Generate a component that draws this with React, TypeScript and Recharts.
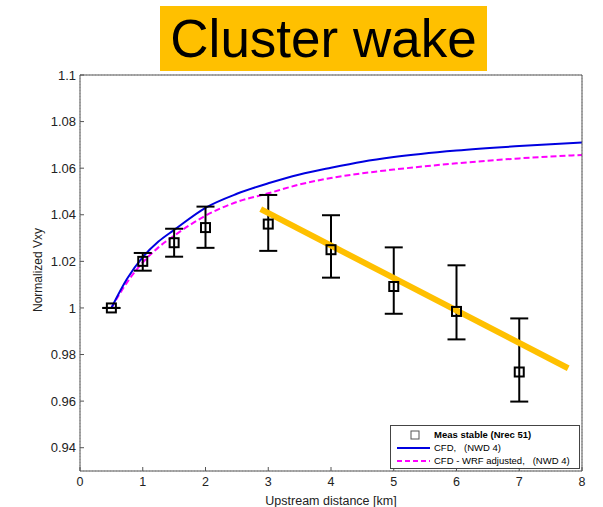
import React from 'react';
import {
  ComposedChart,
  Line,
  Scatter,
  ErrorBar,
  XAxis,
  YAxis,
  CartesianGrid
} from 'recharts';

// measured points (stable, Nrec 51)
const measX = [0.5, 1, 1.5, 2, 3, 4, 5, 6, 7];
const measY = [1.0, 1.02, 1.028, 1.0345, 1.036, 1.025, 1.0092, 0.9985, 0.9725];
const measLow = [1.0, 1.016, 1.022, 1.0258, 1.0245, 1.013, 0.9975, 0.9865, 0.9598];
const measHigh = [1.0, 1.0236, 1.034, 1.0435, 1.0485, 1.0398, 1.026, 1.0183, 0.9955];

// CFD curves
const cfdX = [0.5, 0.75, 1, 1.25, 1.5, 2, 2.5, 3, 3.5, 4, 4.5, 5, 6, 7, 8];
const cfdY = [1.0, 1.0125, 1.0218, 1.0285, 1.0335, 1.043, 1.049, 1.0535, 1.0573, 1.0602, 1.0628, 1.0648, 1.0676, 1.0695, 1.071];
const wrfY = [1.0, 1.011, 1.0195, 1.026, 1.031, 1.0396, 1.0455, 1.0492, 1.053, 1.0558, 1.0578, 1.0594, 1.0621, 1.0642, 1.0657];

// trend line drawn over the measurements
const trendX = [2.88, 7.78];
const trendY = [1.0424, 0.9741];

const xTicks = [0, 1, 2, 3, 4, 5, 6, 7, 8];
const yTicks = [0.94, 0.96, 0.98, 1, 1.02, 1.04, 1.06, 1.08, 1.1];

const measData = measX.map((x, i) => ({
  x,
  y: measY[i],
  err: [measY[i] - measLow[i], measHigh[i] - measY[i]]
}));
const cfdData = cfdX.map((x, i) => ({ x, y: cfdY[i] }));
const wrfData = cfdX.map((x, i) => ({ x, y: wrfY[i] }));
const trendData = trendX.map((x, i) => ({ x, y: trendY[i] }));

const FONT = '"Liberation Sans", Arial, sans-serif';

const SquareMarker = (props: any) => {
  const { cx, cy } = props;
  if (cx == null || cy == null) return null;
  return <rect x={cx - 4.5} y={cy - 4.5} width={9} height={9} fill="none" stroke="#000" strokeWidth={2} />;
};

const fmtY = (v: number) => String(Number(v.toFixed(2)));

const App: React.FC = () => {
  return (
    <div style={{ position: 'absolute', left: 0, top: 0, width: 603, height: 507, background: '#fff', fontFamily: FONT }}>
      <div
        style={{
          position: 'absolute',
          left: 160,
          top: 6,
          width: 327,
          height: 65,
          background: '#FFC000',
          color: '#000',
          fontSize: 53,
          lineHeight: '65px',
          textAlign: 'center'
        }}
      >
        Cluster wake
      </div>

      <ComposedChart
        width={603}
        height={507}
        margin={{ top: 75, right: 21, bottom: 0, left: 0 }}
        style={{ position: 'absolute', left: 0, top: 0 }}
      >
        <CartesianGrid stroke="#c4c4c4" strokeDasharray="1 2" />
        <XAxis
          xAxisId="bottom"
          dataKey="x"
          type="number"
          domain={[0, 8]}
          ticks={xTicks}
          height={36}
          stroke="#555"
          tickSize={-4}
          tickMargin={10}
          tick={{ fill: '#222', fontSize: 12.5, fontFamily: FONT }}
          label={{
            content: () => (
              <text x={331} y={505} textAnchor="middle" fill="#222" fontSize={12.5} fontFamily={FONT}>
                Upstream distance [km]
              </text>
            )
          }}
        />
        <XAxis
          xAxisId="top"
          orientation="top"
          dataKey="x"
          type="number"
          domain={[0, 8]}
          ticks={xTicks}
          mirror
          tick={false}
          tickSize={4}
          stroke="#555"
        />
        <YAxis
          yAxisId="left"
          type="number"
          domain={[0.93, 1.1]}
          ticks={yTicks}
          width={80}
          stroke="#555"
          tickSize={-4}
          tickMargin={8}
          tickFormatter={fmtY}
          tick={{ fill: '#222', fontSize: 13, fontFamily: FONT }}
          label={{
            content: () => (
              <text
                x={42}
                y={270}
                textAnchor="middle"
                transform="rotate(-90, 42, 270)"
                fill="#222"
                fontSize={12}
                fontFamily={FONT}
              >
                Normalized Vxy
              </text>
            )
          }}
        />
        <YAxis
          yAxisId="right"
          orientation="right"
          type="number"
          domain={[0.93, 1.1]}
          ticks={yTicks}
          mirror
          tick={false}
          tickSize={4}
          stroke="#555"
        />

        <Line
          xAxisId="bottom"
          yAxisId="left"
          data={wrfData}
          dataKey="y"
          type="monotone"
          stroke="#ff00ff"
          strokeWidth={2}
          strokeDasharray="6 3"
          dot={false}
          isAnimationActive={false}
        />
        <Line
          xAxisId="bottom"
          yAxisId="left"
          data={cfdData}
          dataKey="y"
          type="monotone"
          stroke="#0000e0"
          strokeWidth={2}
          dot={false}
          isAnimationActive={false}
        />
        <Scatter
          xAxisId="bottom"
          yAxisId="left"
          data={measData}
          dataKey="y"
          shape={SquareMarker}
          isAnimationActive={false}
        >
          <ErrorBar dataKey="err" direction="y" width={9} stroke="#000" strokeWidth={2} />
        </Scatter>
        <Line
          xAxisId="bottom"
          yAxisId="left"
          data={trendData}
          dataKey="y"
          type="linear"
          stroke="#FFC000"
          strokeWidth={6}
          dot={false}
          isAnimationActive={false}
        />
      </ComposedChart>

      <div
        style={{
          position: 'absolute',
          left: 390,
          top: 425,
          width: 190,
          height: 44,
          border: '1px solid #444',
          background: '#fff',
          fontSize: 9.5,
          color: '#000',
          boxSizing: 'border-box',
          padding: '2px 0 0 4px'
        }}
      >
        <div style={{ display: 'flex', alignItems: 'center', height: 13 }}>
          <svg width={36} height={12}>
            <rect x={16} y={2} width={8} height={8} fill="none" stroke="#555" strokeWidth={1} />
          </svg>
          <span style={{ marginLeft: 3, fontWeight: 'bold' }}>Meas stable (Nrec 51)</span>
        </div>
        <div style={{ display: 'flex', alignItems: 'center', height: 13 }}>
          <svg width={36} height={12}>
            <line x1={2} y1={6} x2={35} y2={6} stroke="#0000e0" strokeWidth={2} />
          </svg>
          <span style={{ marginLeft: 3 }}>CFD,&nbsp;&nbsp;&nbsp;(NWD 4)</span>
        </div>
        <div style={{ display: 'flex', alignItems: 'center', height: 13 }}>
          <svg width={36} height={12}>
            <line x1={2} y1={6} x2={35} y2={6} stroke="#ff00ff" strokeWidth={2} strokeDasharray="5 3" />
          </svg>
          <span style={{ marginLeft: 3 }}>CFD - WRF adjusted,&nbsp;&nbsp;&nbsp;(NWD 4)</span>
        </div>
      </div>
    </div>
  );
};

export default App;
